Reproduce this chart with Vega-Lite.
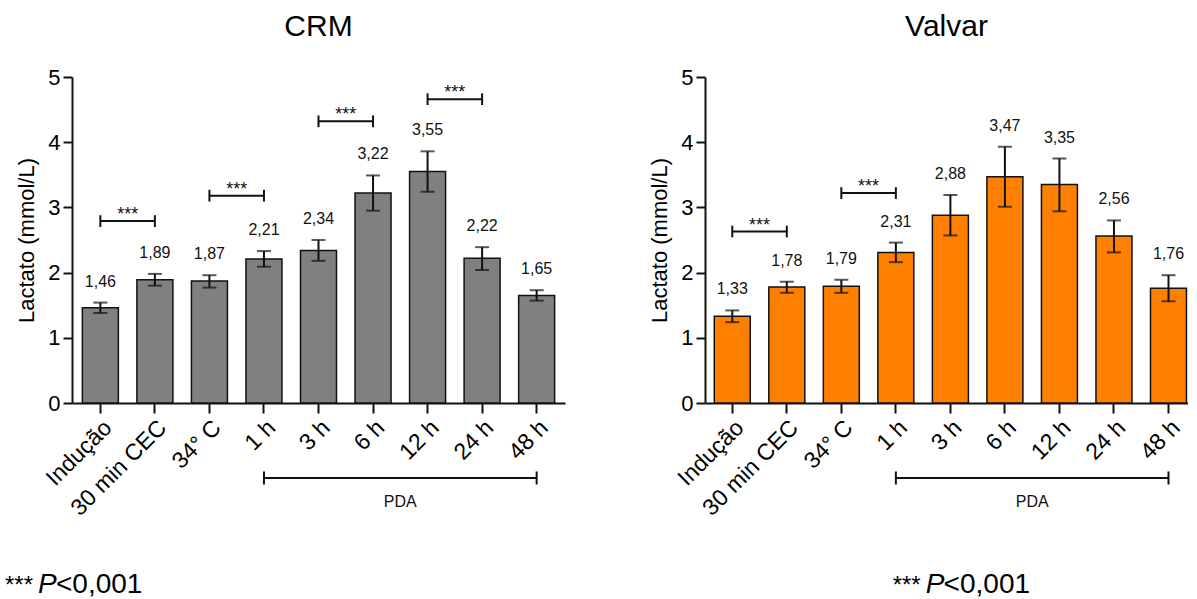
{
  "$schema": "https://vega.github.io/schema/vega-lite/v6.json",
  "padding": {"left": 5, "top": 12, "right": 0, "bottom": 0},
  "spacing": 83,
  "datasets": {
    "crm": [
      {"cat": "Indução", "mean": 1.46, "lo": 1.38, "hi": 1.54, "label": "1,46"},
      {"cat": "30 min CEC", "mean": 1.89, "lo": 1.80, "hi": 1.98, "label": "1,89"},
      {"cat": "34° C", "mean": 1.87, "lo": 1.77, "hi": 1.96, "label": "1,87"},
      {"cat": "1 h", "mean": 2.21, "lo": 2.09, "hi": 2.33, "label": "2,21"},
      {"cat": "3 h", "mean": 2.34, "lo": 2.18, "hi": 2.50, "label": "2,34"},
      {"cat": "6 h", "mean": 3.22, "lo": 2.95, "hi": 3.49, "label": "3,22"},
      {"cat": "12 h", "mean": 3.55, "lo": 3.24, "hi": 3.86, "label": "3,55"},
      {"cat": "24 h", "mean": 2.22, "lo": 2.04, "hi": 2.39, "label": "2,22"},
      {"cat": "48 h", "mean": 1.65, "lo": 1.57, "hi": 1.73, "label": "1,65"}
    ],
    "valvar": [
      {"cat": "Indução", "mean": 1.33, "lo": 1.24, "hi": 1.42, "label": "1,33"},
      {"cat": "30 min CEC", "mean": 1.78, "lo": 1.69, "hi": 1.86, "label": "1,78"},
      {"cat": "34° C", "mean": 1.79, "lo": 1.69, "hi": 1.89, "label": "1,79"},
      {"cat": "1 h", "mean": 2.31, "lo": 2.16, "hi": 2.46, "label": "2,31"},
      {"cat": "3 h", "mean": 2.88, "lo": 2.57, "hi": 3.19, "label": "2,88"},
      {"cat": "6 h", "mean": 3.47, "lo": 3.01, "hi": 3.93, "label": "3,47"},
      {"cat": "12 h", "mean": 3.35, "lo": 2.94, "hi": 3.75, "label": "3,35"},
      {"cat": "24 h", "mean": 2.56, "lo": 2.31, "hi": 2.80, "label": "2,56"},
      {"cat": "48 h", "mean": 1.76, "lo": 1.56, "hi": 1.96, "label": "1,76"}
    ],
    "crmSig": [
      {"a": "Indução", "b": "30 min CEC", "y": 2.79, "y0": 2.70, "y1": 2.88, "t": "***"},
      {"a": "34° C", "b": "1 h", "y": 3.18, "y0": 3.09, "y1": 3.27, "t": "***"},
      {"a": "3 h", "b": "6 h", "y": 4.32, "y0": 4.23, "y1": 4.41, "t": "***"},
      {"a": "12 h", "b": "24 h", "y": 4.66, "y0": 4.57, "y1": 4.75, "t": "***"}
    ],
    "valvarSig": [
      {"a": "Indução", "b": "30 min CEC", "y": 2.63, "y0": 2.54, "y1": 2.72, "t": "***"},
      {"a": "34° C", "b": "1 h", "y": 3.22, "y0": 3.13, "y1": 3.31, "t": "***"}
    ],
    "pda": [
      {"a": "1 h", "b": "48 h", "mid": "6 h", "y": -1.15, "y0": -1.25, "y1": -1.05, "ty": -1.52, "t": "PDA"}
    ],
    "crmFoot": [
      {"fx": -0.1359, "fy": -2.914, "t": "***", "part": "star"},
      {"fx": -0.069, "fy": -2.914, "t": "P", "part": "p"},
      {"fx": -0.0325, "fy": -2.914, "t": "<0,001", "part": "rest"}
    ],
    "valvarFoot": [
      {"fx": 0.3886, "fy": -2.914, "t": "***", "part": "star"},
      {"fx": 0.457, "fy": -2.914, "t": "P", "part": "p"},
      {"fx": 0.494, "fy": -2.914, "t": "<0,001", "part": "rest"}
    ]
  },
  "hconcat": [
    {
      "title": {"text": "CRM", "frame": "group", "offset": 24},
      "width": 493,
      "height": 326,
      "resolve": {"scale": {"x": "independent"}},
      "layer": [
        {
          "layer": [
            {
              "data": {"name": "crm"},
              "mark": {"type": "bar", "fill": "#808080", "stroke": "#111111", "strokeWidth": 1.5},
              "encoding": {
                "x": {"field": "cat", "type": "nominal", "title": null, "scale": {"domain": ["Indução", "30 min CEC", "34° C", "1 h", "3 h", "6 h", "12 h", "24 h", "48 h"], "paddingInner": 0.34, "paddingOuter": 0.19},
                      "axis": {"labelAngle": -45, "labelFontSize": 23, "tickSize": 10, "labelPadding": 3}},
                "y": {"field": "mean", "type": "quantitative", "title": "Lactato (mmol/L)", "scale": {"domain": [0, 5], "nice": false},
                      "axis": {"titleFontSize": 22, "labelFontSize": 22, "values": [0, 1, 2, 3, 4, 5], "format": "d", "tickSize": 9, "labelPadding": 3, "titlePadding": 9}}
              }
            },
            {
              "data": {"name": "crm"},
              "mark": {"type": "rule", "color": "#111111", "strokeWidth": 2},
              "encoding": {
                "x": {"field": "cat", "type": "nominal", "title": null},
                "y": {"field": "lo", "type": "quantitative", "title": "Lactato (mmol/L)"},
                "y2": {"field": "hi"}
              }
            },
            {
              "data": {"name": "crm"},
              "mark": {"type": "tick", "color": "#111111", "thickness": 2, "size": 14},
              "encoding": {
                "x": {"field": "cat", "type": "nominal", "title": null},
                "y": {"field": "hi", "type": "quantitative", "title": "Lactato (mmol/L)"}
              }
            },
            {
              "data": {"name": "crm"},
              "mark": {"type": "tick", "color": "#111111", "thickness": 2, "size": 14},
              "encoding": {
                "x": {"field": "cat", "type": "nominal", "title": null},
                "y": {"field": "lo", "type": "quantitative", "title": "Lactato (mmol/L)"}
              }
            },
            {
              "data": {"name": "crm"},
              "mark": {"type": "text", "fontSize": 16, "color": "#111111", "baseline": "middle", "dy": -21},
              "encoding": {
                "x": {"field": "cat", "type": "nominal", "title": null},
                "y": {"field": "hi", "type": "quantitative", "title": "Lactato (mmol/L)"},
                "text": {"field": "label"}
              }
            },
            {
              "data": {"name": "crmSig"},
              "mark": {"type": "rule", "color": "#111111", "strokeWidth": 2},
              "encoding": {
                "x": {"field": "a", "type": "nominal", "title": null},
                "x2": {"field": "b"},
                "y": {"field": "y", "type": "quantitative", "title": "Lactato (mmol/L)"}
              }
            },
            {
              "data": {"name": "crmSig"},
              "mark": {"type": "rule", "color": "#111111", "strokeWidth": 2},
              "encoding": {
                "x": {"field": "a", "type": "nominal", "title": null},
                "y": {"field": "y0", "type": "quantitative", "title": "Lactato (mmol/L)"},
                "y2": {"field": "y1"}
              }
            },
            {
              "data": {"name": "crmSig"},
              "mark": {"type": "rule", "color": "#111111", "strokeWidth": 2},
              "encoding": {
                "x": {"field": "b", "type": "nominal", "title": null},
                "y": {"field": "y0", "type": "quantitative", "title": "Lactato (mmol/L)"},
                "y2": {"field": "y1"}
              }
            },
            {
              "data": {"name": "crmSig"},
              "mark": {"type": "text", "fontSize": 18, "color": "#111111", "baseline": "alphabetic", "dy": -1},
              "encoding": {
                "x": {"field": "a", "type": "nominal", "title": null, "bandPosition": 1.258},
                "y": {"field": "y", "type": "quantitative", "title": "Lactato (mmol/L)"},
                "text": {"field": "t"}
              }
            },
            {
              "data": {"name": "pda"},
              "mark": {"type": "rule", "color": "#111111", "strokeWidth": 2},
              "encoding": {
                "x": {"field": "a", "type": "nominal", "title": null},
                "x2": {"field": "b"},
                "y": {"field": "y", "type": "quantitative", "title": "Lactato (mmol/L)"}
              }
            },
            {
              "data": {"name": "pda"},
              "mark": {"type": "rule", "color": "#111111", "strokeWidth": 2},
              "encoding": {
                "x": {"field": "a", "type": "nominal", "title": null},
                "y": {"field": "y0", "type": "quantitative", "title": "Lactato (mmol/L)"},
                "y2": {"field": "y1"}
              }
            },
            {
              "data": {"name": "pda"},
              "mark": {"type": "rule", "color": "#111111", "strokeWidth": 2},
              "encoding": {
                "x": {"field": "b", "type": "nominal", "title": null},
                "y": {"field": "y0", "type": "quantitative", "title": "Lactato (mmol/L)"},
                "y2": {"field": "y1"}
              }
            },
            {
              "data": {"name": "pda"},
              "mark": {"type": "text", "fontSize": 16, "color": "#111111", "baseline": "middle"},
              "encoding": {
                "x": {"field": "mid", "type": "nominal", "title": null, "bandPosition": 1.258},
                "y": {"field": "ty", "type": "quantitative", "title": "Lactato (mmol/L)"},
                "text": {"field": "t"}
              }
            }
          ]
        },
        {
          "data": {"name": "crmFoot"},
          "encoding": {
            "x": {"field": "fx", "type": "quantitative", "scale": {"domain": [0, 1], "nice": false, "zero": false}, "axis": null},
            "y": {"field": "fy", "type": "quantitative", "title": "Lactato (mmol/L)"},
            "text": {"field": "t"}
          },
          "layer": [
            {"transform": [{"filter": "datum.part == 'star'"}], "mark": {"type": "text", "align": "left", "baseline": "alphabetic", "fontSize": 24, "color": "#000000"}},
            {"transform": [{"filter": "datum.part == 'p'"}], "mark": {"type": "text", "align": "left", "baseline": "alphabetic", "fontSize": 28, "fontStyle": "italic", "color": "#000000"}},
            {"transform": [{"filter": "datum.part == 'rest'"}], "mark": {"type": "text", "align": "left", "baseline": "alphabetic", "fontSize": 28, "color": "#000000"}}
          ]
        }
      ]
    },
    {
      "title": {"text": "Valvar", "frame": "group", "offset": 24},
      "width": 483,
      "height": 326,
      "resolve": {"scale": {"x": "independent"}},
      "layer": [
        {
          "layer": [
            {
              "data": {"name": "valvar"},
              "mark": {"type": "bar", "fill": "#FF8000", "stroke": "#111111", "strokeWidth": 1.5},
              "encoding": {
                "x": {"field": "cat", "type": "nominal", "title": null, "scale": {"domain": ["Indução", "30 min CEC", "34° C", "1 h", "3 h", "6 h", "12 h", "24 h", "48 h"], "paddingInner": 0.34, "paddingOuter": 0.099, "align": 0.86},
                      "axis": {"labelAngle": -45, "labelFontSize": 23, "tickSize": 10, "labelPadding": 3}},
                "y": {"field": "mean", "type": "quantitative", "title": "Lactato (mmol/L)", "scale": {"domain": [0, 5], "nice": false},
                      "axis": {"titleFontSize": 22, "labelFontSize": 22, "values": [0, 1, 2, 3, 4, 5], "format": "d", "tickSize": 9, "labelPadding": 3, "titlePadding": 9}}
              }
            },
            {
              "data": {"name": "valvar"},
              "mark": {"type": "rule", "color": "#111111", "strokeWidth": 2},
              "encoding": {
                "x": {"field": "cat", "type": "nominal", "title": null},
                "y": {"field": "lo", "type": "quantitative", "title": "Lactato (mmol/L)"},
                "y2": {"field": "hi"}
              }
            },
            {
              "data": {"name": "valvar"},
              "mark": {"type": "tick", "color": "#111111", "thickness": 2, "size": 14},
              "encoding": {
                "x": {"field": "cat", "type": "nominal", "title": null},
                "y": {"field": "hi", "type": "quantitative", "title": "Lactato (mmol/L)"}
              }
            },
            {
              "data": {"name": "valvar"},
              "mark": {"type": "tick", "color": "#111111", "thickness": 2, "size": 14},
              "encoding": {
                "x": {"field": "cat", "type": "nominal", "title": null},
                "y": {"field": "lo", "type": "quantitative", "title": "Lactato (mmol/L)"}
              }
            },
            {
              "data": {"name": "valvar"},
              "mark": {"type": "text", "fontSize": 16, "color": "#111111", "baseline": "middle", "dy": -21},
              "encoding": {
                "x": {"field": "cat", "type": "nominal", "title": null},
                "y": {"field": "hi", "type": "quantitative", "title": "Lactato (mmol/L)"},
                "text": {"field": "label"}
              }
            },
            {
              "data": {"name": "valvarSig"},
              "mark": {"type": "rule", "color": "#111111", "strokeWidth": 2},
              "encoding": {
                "x": {"field": "a", "type": "nominal", "title": null},
                "x2": {"field": "b"},
                "y": {"field": "y", "type": "quantitative", "title": "Lactato (mmol/L)"}
              }
            },
            {
              "data": {"name": "valvarSig"},
              "mark": {"type": "rule", "color": "#111111", "strokeWidth": 2},
              "encoding": {
                "x": {"field": "a", "type": "nominal", "title": null},
                "y": {"field": "y0", "type": "quantitative", "title": "Lactato (mmol/L)"},
                "y2": {"field": "y1"}
              }
            },
            {
              "data": {"name": "valvarSig"},
              "mark": {"type": "rule", "color": "#111111", "strokeWidth": 2},
              "encoding": {
                "x": {"field": "b", "type": "nominal", "title": null},
                "y": {"field": "y0", "type": "quantitative", "title": "Lactato (mmol/L)"},
                "y2": {"field": "y1"}
              }
            },
            {
              "data": {"name": "valvarSig"},
              "mark": {"type": "text", "fontSize": 18, "color": "#111111", "baseline": "alphabetic", "dy": -1},
              "encoding": {
                "x": {"field": "a", "type": "nominal", "title": null, "bandPosition": 1.258},
                "y": {"field": "y", "type": "quantitative", "title": "Lactato (mmol/L)"},
                "text": {"field": "t"}
              }
            },
            {
              "data": {"name": "pda"},
              "mark": {"type": "rule", "color": "#111111", "strokeWidth": 2},
              "encoding": {
                "x": {"field": "a", "type": "nominal", "title": null},
                "x2": {"field": "b"},
                "y": {"field": "y", "type": "quantitative", "title": "Lactato (mmol/L)"}
              }
            },
            {
              "data": {"name": "pda"},
              "mark": {"type": "rule", "color": "#111111", "strokeWidth": 2},
              "encoding": {
                "x": {"field": "a", "type": "nominal", "title": null},
                "y": {"field": "y0", "type": "quantitative", "title": "Lactato (mmol/L)"},
                "y2": {"field": "y1"}
              }
            },
            {
              "data": {"name": "pda"},
              "mark": {"type": "rule", "color": "#111111", "strokeWidth": 2},
              "encoding": {
                "x": {"field": "b", "type": "nominal", "title": null},
                "y": {"field": "y0", "type": "quantitative", "title": "Lactato (mmol/L)"},
                "y2": {"field": "y1"}
              }
            },
            {
              "data": {"name": "pda"},
              "mark": {"type": "text", "fontSize": 16, "color": "#111111", "baseline": "middle"},
              "encoding": {
                "x": {"field": "mid", "type": "nominal", "title": null, "bandPosition": 1.258},
                "y": {"field": "ty", "type": "quantitative", "title": "Lactato (mmol/L)"},
                "text": {"field": "t"}
              }
            }
          ]
        },
        {
          "data": {"name": "valvarFoot"},
          "encoding": {
            "x": {"field": "fx", "type": "quantitative", "scale": {"domain": [0, 1], "nice": false, "zero": false}, "axis": null},
            "y": {"field": "fy", "type": "quantitative", "title": "Lactato (mmol/L)"},
            "text": {"field": "t"}
          },
          "layer": [
            {"transform": [{"filter": "datum.part == 'star'"}], "mark": {"type": "text", "align": "left", "baseline": "alphabetic", "fontSize": 24, "color": "#000000"}},
            {"transform": [{"filter": "datum.part == 'p'"}], "mark": {"type": "text", "align": "left", "baseline": "alphabetic", "fontSize": 28, "fontStyle": "italic", "color": "#000000"}},
            {"transform": [{"filter": "datum.part == 'rest'"}], "mark": {"type": "text", "align": "left", "baseline": "alphabetic", "fontSize": 28, "color": "#000000"}}
          ]
        }
      ]
    }
  ],
  "config": {
    "font": "Liberation Sans",
    "view": {"stroke": null},
    "axis": {"domainColor": "#111111", "domainWidth": 2, "tickColor": "#111111", "tickWidth": 2, "labelColor": "#000000", "titleColor": "#000000", "grid": false, "labelFont": "Liberation Sans", "titleFont": "Liberation Sans", "titleFontWeight": "normal"},
    "title": {"fontSize": 30, "fontWeight": "normal", "color": "#000000", "font": "Liberation Sans"},
    "text": {"font": "Liberation Sans"}
  }
}
